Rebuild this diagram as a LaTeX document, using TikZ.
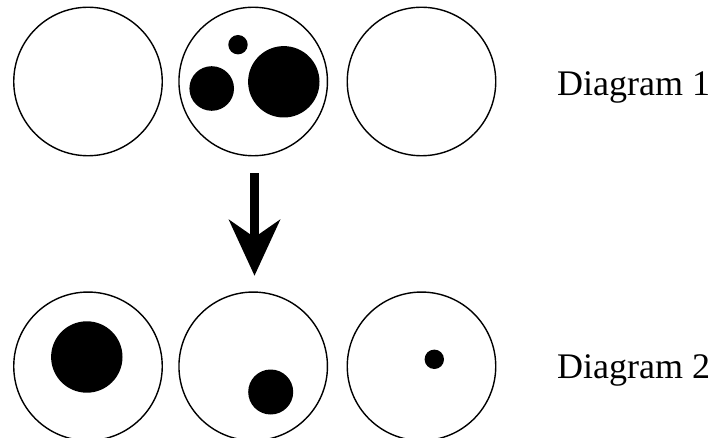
\documentclass[tikz,border=0pt]{standalone}
\usepackage{fontspec}
\setmainfont{Liberation Serif}
\usetikzlibrary{arrows.meta}
\begin{document}
\begin{tikzpicture}[x=1pt,y=-1pt,
  ring/.style={draw, circle, line width=1.4pt, minimum size=148.5pt, inner sep=0pt},
  blob/.style={fill=black, circle, inner sep=0pt, minimum size=#1},
  lbl/.style={anchor=base west, inner sep=0pt, font=\fontsize{36}{40}\selectfont}]
\useasboundingbox (0,0) rectangle (723,438);
% top row
\node[ring] (a1) at (88,81.5) {};
\node[ring] (a2) at (253.2,81.5) {};
\node[ring] (a3) at (421.5,81.5) {};
\node[blob=19.4pt] (s1) at (238,44.7) {};
\node[blob=44.6pt] (s2) at (211.7,88.5) {};
\node[blob=71.4pt] (s3) at (283.8,81.8) {};
\node[lbl] (t1) at (557,96) {Diagram 1};
% bottom row
\node[ring] (b1) at (88,366.3) {};
\node[ring] (b2) at (253.2,366.3) {};
\node[ring] (b3) at (421.5,366.3) {};
\node[blob=71.4pt] (u1) at (86.8,357) {};
\node[blob=45pt] (u2) at (270.7,392) {};
\node[blob=19.4pt] (u3) at (434.3,359.3) {};
\node[lbl] (t2) at (557,378.5) {Diagram 2};
% arrow
\draw[line width=9pt, shorten <=17pt, shorten >=15.6pt,
  -{Stealth[length=55.7pt, width=50.7pt, inset=17.3pt]}]
  ([xshift=1.3pt]a2.south) -- ([xshift=1.3pt]b2.north);
\end{tikzpicture}
\end{document}
